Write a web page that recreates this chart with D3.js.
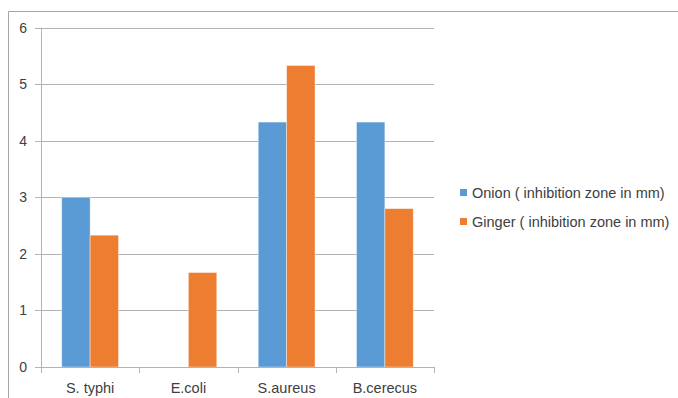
<!DOCTYPE html>
<html>
<head>
<meta charset="utf-8">
<script src="https://cdn.jsdelivr.net/npm/d3@7"></script>
<style>
  html, body { margin: 0; padding: 0; background: #fff; }
  svg { display: block; }
  text { font-family: "Liberation Sans", Arial, sans-serif; fill: #404040; }
</style>
</head>
<body>
<svg id="chart" width="678" height="398"></svg>
<script>
// Inhibition zone (mm) per bacterium
const categories = ["S. typhi", "E.coli", "S.aureus", "B.cerecus"];
const onion = [3.0, 0, 4.33, 4.33];
const ginger = [2.33, 1.67, 5.33, 2.8];
const seriesNames = ["Onion ( inhibition zone in mm)", "Ginger ( inhibition zone in mm)"];
const seriesColors = ["#5B9BD5", "#ED7D31"];
const yTicks = [0, 1, 2, 3, 4, 5, 6];

const svg = d3.select("#chart");

// chart frame
svg.append("path")
  .attr("d", "M8.5,398 V11.5 H678")
  .attr("fill", "none")
  .attr("stroke", "#a6a6a6")
  .attr("stroke-width", 1);

const plot = { left: 41, right: 434, top: 27.6, bottom: 367 };

const x = d3.scaleBand().domain(categories).range([plot.left, plot.right]);
const xs = d3.scaleBand().domain([0, 1]).range([0, x.bandwidth()]).paddingOuter(0.73).paddingInner(0);
const y = d3.scaleLinear().domain([0, 6]).range([plot.bottom, plot.top]);

// horizontal gridlines
svg.append("g")
  .selectAll("line")
  .data(yTicks)
  .join("line")
  .attr("x1", plot.left - 6)
  .attr("x2", plot.right)
  .attr("y1", d => Math.round(y(d)) + 0.5)
  .attr("y2", d => Math.round(y(d)) + 0.5)
  .attr("stroke", "#b3b3b3")
  .attr("stroke-width", 1);

// y axis line
svg.append("line")
  .attr("x1", plot.left + 0.5).attr("x2", plot.left + 0.5)
  .attr("y1", plot.top).attr("y2", plot.bottom)
  .attr("stroke", "#b3b3b3");

// y tick labels
svg.append("g")
  .selectAll("text")
  .data(yTicks)
  .join("text")
  .attr("x", 27)
  .attr("y", d => y(d) + 5)
  .attr("text-anchor", "end")
  .attr("font-size", 14)
  .text(d => d);

// bars
const rows = categories.map((c, i) => ({ cat: c, vals: [onion[i], ginger[i]] }));
const groups = svg.append("g")
  .selectAll("g")
  .data(rows)
  .join("g")
  .attr("transform", d => `translate(${x(d.cat)},0)`);

groups.selectAll("rect")
  .data(d => d.vals.map((v, k) => ({ v, k })).filter(e => e.v > 0))
  .join("rect")
  .attr("x", d => xs(d.k))
  .attr("width", xs.bandwidth())
  .attr("y", d => y(d.v))
  .attr("height", d => y(0) - y(d.v))
  .attr("fill", d => seriesColors[d.k])
  .attr("stroke", "#ffffff")
  .attr("stroke-opacity", 0.5)
  .attr("stroke-width", 0.8);

// x axis line and category ticks
svg.append("line")
  .attr("x1", plot.left).attr("x2", plot.right + 0.5)
  .attr("y1", plot.bottom + 0.5).attr("y2", plot.bottom + 0.5)
  .attr("stroke", "#b3b3b3");

const boundaries = categories.map(c => x(c)).concat([plot.right]);
svg.append("g")
  .selectAll("line")
  .data(boundaries)
  .join("line")
  .attr("x1", d => Math.round(d) + 0.5)
  .attr("x2", d => Math.round(d) + 0.5)
  .attr("y1", plot.bottom)
  .attr("y2", plot.bottom + 6)
  .attr("stroke", "#b3b3b3");

svg.append("g")
  .selectAll("text")
  .data(categories)
  .join("text")
  .attr("x", d => x(d) + x.bandwidth() / 2)
  .attr("y", 392.5)
  .attr("text-anchor", "middle")
  .attr("font-size", 14.5)
  .text(d => d);

// legend
const legend = svg.append("g")
  .selectAll("g")
  .data(seriesNames)
  .join("g")
  .attr("transform", (d, i) => `translate(460,${193 + i * 29})`);

legend.append("rect")
  .attr("x", 0).attr("y", -4)
  .attr("width", 7).attr("height", 7)
  .attr("fill", (d, i) => seriesColors[i]);

legend.append("text")
  .attr("x", 12)
  .attr("y", 5)
  .attr("font-size", 14.5)
  .text(d => d);
</script>
</body>
</html>
